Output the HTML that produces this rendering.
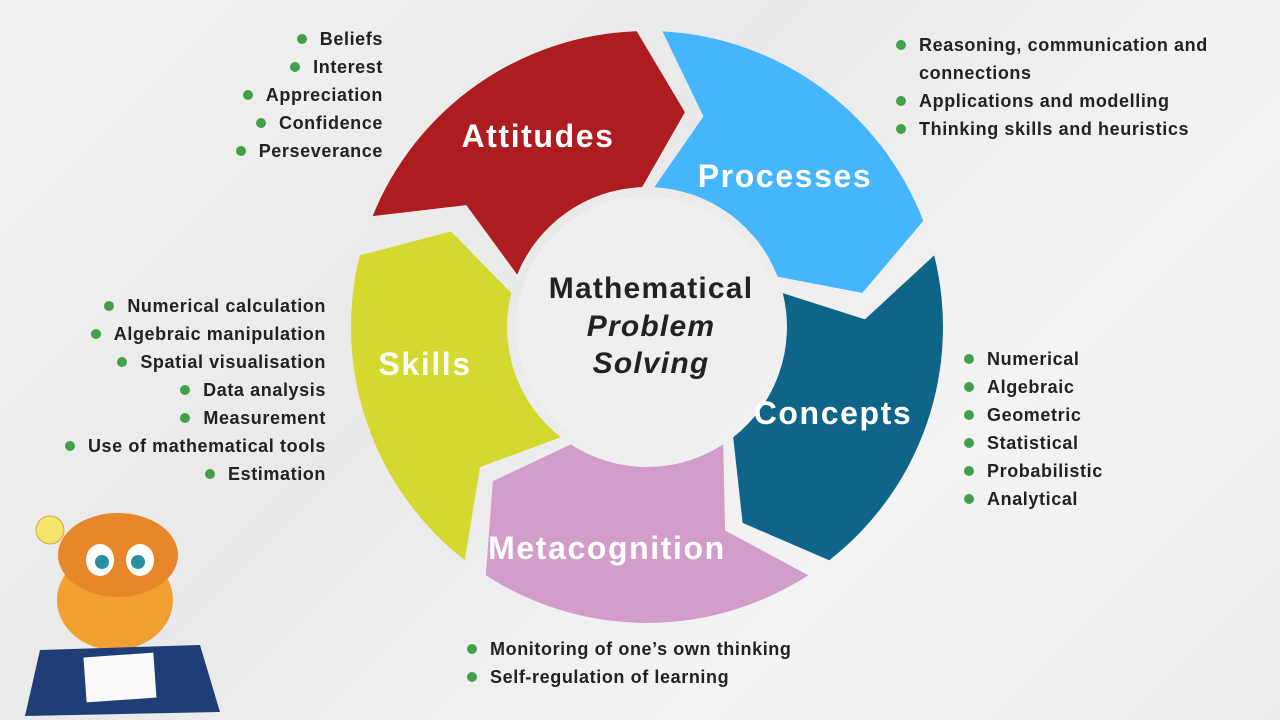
<!DOCTYPE html>
<html><head><meta charset="utf-8"><style>
html,body{margin:0;padding:0}
body{width:1280px;height:720px;overflow:hidden;position:relative;background:linear-gradient(135deg,#f2f2f2,#e9e9e9 40%,#f4f4f4 70%,#ebebeb);font-family:"Liberation Sans",Arial,sans-serif}
.l{position:absolute;font-weight:bold;font-size:18px;color:#222;line-height:28px;white-space:nowrap;letter-spacing:0.6px}
.l div::before{content:"";display:inline-block;width:10px;height:10px;border-radius:50%;background:#43a04a;margin-right:13px;vertical-align:1px}
.l div.nb::before{display:none}
.r{text-align:right}
</style></head><body>
<svg width="1280" height="720" style="position:absolute;left:0;top:0">
<g id="segs"></g>
<circle cx="647" cy="327" r="131" fill="#efefef"/>
<g font-family="Liberation Sans,Arial,sans-serif" font-weight="bold" fill="#fff" font-size="32" text-anchor="middle" letter-spacing="1.6">
<text x="538" y="147">Attitudes</text>
<text x="785" y="187">Processes</text>
<text x="833" y="424">Concepts</text>
<text x="607" y="559">Metacognition</text>
<text x="425" y="375">Skills</text>
</g>
<g font-family="Liberation Sans,Arial,sans-serif" font-weight="bold" fill="#222" font-size="30" text-anchor="middle" letter-spacing="1.2">
<text x="651" y="298">Mathematical</text>
<text x="651" y="336" font-style="italic">Problem</text>
<text x="651" y="373" font-style="italic">Solving</text>
</g>
<!-- tiger simplified -->
<ellipse cx="115" cy="600" rx="58" ry="50" fill="#f0a030"/>
<ellipse cx="118" cy="555" rx="60" ry="42" fill="#e8862a"/>
<ellipse cx="100" cy="560" rx="14" ry="16" fill="#fff"/><ellipse cx="140" cy="560" rx="14" ry="16" fill="#fff"/>
<circle cx="102" cy="562" r="7" fill="#2a8fa0"/><circle cx="138" cy="562" r="7" fill="#2a8fa0"/>
<circle cx="50" cy="530" r="14" fill="#f5e36a" stroke="#c9b040"/>
<polygon points="40,650 200,645 220,712 25,716" fill="#1f3e78"/>
<rect x="85" y="655" width="70" height="45" fill="#fafafa" transform="rotate(-4 120 678)"/>
</svg>
<div class="l r" style="right:897px;top:25px">
<div>Beliefs</div><div>Interest</div><div>Appreciation</div><div>Confidence</div><div>Perseverance</div></div>
<div class="l" style="left:896px;top:31px">
<div>Reasoning, communication and</div><div class="nb" style="padding-left:23px">connections</div><div>Applications and modelling</div><div>Thinking skills and heuristics</div></div>
<div class="l r" style="right:954px;top:292px">
<div>Numerical calculation</div><div>Algebraic manipulation</div><div>Spatial visualisation</div><div>Data analysis</div><div>Measurement</div><div>Use of mathematical tools</div><div>Estimation</div></div>
<div class="l" style="left:964px;top:345px">
<div>Numerical</div><div>Algebraic</div><div>Geometric</div><div>Statistical</div><div>Probabilistic</div><div>Analytical</div></div>
<div class="l" style="left:467px;top:635px">
<div>Monitoring of one’s own thinking</div><div>Self-regulation of learning</div></div>
<script>
(function(){
var cx=647,cy=327,R=296,Ri=140,Rm=218;
var cols=["#ad1c1f","#45b5fc","#0f6587","#d39dc9","#d3d92e"];
var starts=[-68,3,76,147,218];
function p(a,r){var t=(a-90)*Math.PI/180;return (cx+r*Math.cos(t)).toFixed(1)+","+(cy+r*Math.sin(t)).toFixed(1);}
var g=document.getElementById("segs"),h="";
for(var i=0;i<5;i++){
var s=starts[i],e=s+66;
var d="M"+p(s,R)+" A"+R+","+R+" 0 0 1 "+p(e,R)+" L"+p(e+12,Rm)+" L"+p(e,Ri)+" A"+Ri+","+Ri+" 0 0 0 "+p(s,Ri)+" L"+p(s+12,Rm)+" Z";
h+='<path d="'+d+'" fill="'+cols[i]+'"/>';
}
g.innerHTML=h;
})();
</script>
</body></html>
